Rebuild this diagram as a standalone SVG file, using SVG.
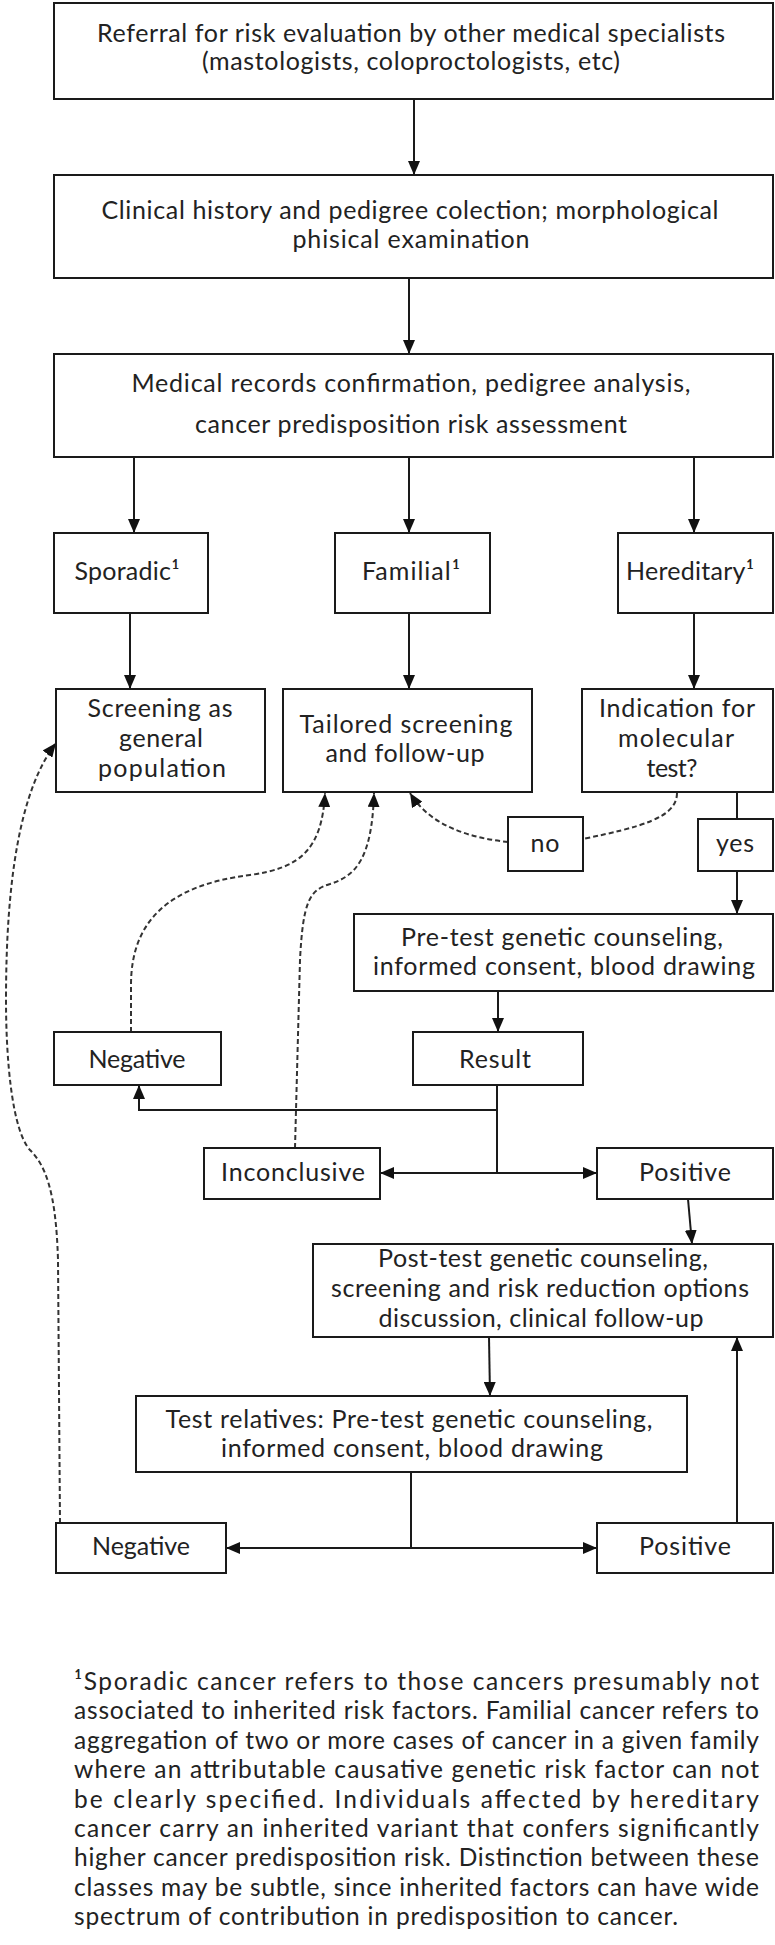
<svg xmlns="http://www.w3.org/2000/svg" width="775" height="1945" viewBox="0 0 775 1945">
<style>
.box{fill:#fff;stroke:#1a1a1a;stroke-width:2}
.t{font-family:Lato,"Liberation Sans",sans-serif;font-size:25px;fill:#222;text-anchor:middle}
.fn{font-family:Lato,"Liberation Sans",sans-serif;font-size:24.5px;fill:#222}
.c{fill:none;stroke:#1a1a1a;stroke-width:2}
.d{fill:none;stroke:#333;stroke-width:2;stroke-dasharray:5,3}
</style>
<defs>
<marker id="ah" viewBox="0 0 14 12" refX="14" refY="6" markerWidth="14" markerHeight="12" markerUnits="userSpaceOnUse" orient="auto">
<path d="M0,0 L14,6 L0,12 z" fill="#111" stroke="none"/>
</marker>
</defs>
<rect width="775" height="1945" fill="#fff"/>

<g id="connectors">
<path class="c" d="M414,99 L414,175" marker-end="url(#ah)"/>
<path class="c" d="M409,278 L409,354" marker-end="url(#ah)"/>
<path class="c" d="M134,457 L134,533" marker-end="url(#ah)"/>
<path class="c" d="M409,457 L409,533" marker-end="url(#ah)"/>
<path class="c" d="M694,457 L694,533" marker-end="url(#ah)"/>
<path class="c" d="M130,613 L130,689" marker-end="url(#ah)"/>
<path class="c" d="M409,613 L409,689" marker-end="url(#ah)"/>
<path class="c" d="M694,613 L694,689" marker-end="url(#ah)"/>
<path class="c" d="M737,792 L737,819"/>
<path class="c" d="M737,871 L737,914" marker-end="url(#ah)"/>
<path class="c" d="M498,991 L498,1032" marker-end="url(#ah)"/>
<path class="c" d="M497,1085 L497,1173"/>
<path class="c" d="M497,1110 L139,1110 L139,1085" marker-end="url(#ah)"/>
<path class="c" d="M497,1173 L380,1173" marker-end="url(#ah)"/>
<path class="c" d="M497,1173 L597,1173" marker-end="url(#ah)"/>
<path class="c" d="M688,1199 L692,1244" marker-end="url(#ah)"/>
<path class="c" d="M489,1337 L490,1396" marker-end="url(#ah)"/>
<path class="c" d="M411,1472 L411,1548"/>
<path class="c" d="M411,1548 L226,1548" marker-end="url(#ah)"/>
<path class="c" d="M411,1548 L597,1548" marker-end="url(#ah)"/>
<path class="c" d="M737,1523 L737,1337" marker-end="url(#ah)"/>
<path class="d" d="M677,793 C677,818 640,827 583,839"/>
<path class="d" d="M508,842 C470,838 430,826 410,793" marker-end="url(#ah)"/>
<path class="d" d="M131,1032 L131,985 C131,920 170,885 250,875 C300,868 322,850 325,793" marker-end="url(#ah)"/>
<path class="d" d="M295,1148 L300,960 C303,900 310,890 330,884 C355,876 372,860 374,793" marker-end="url(#ah)"/>
<path class="d" d="M60,1523 L58,1260 C56,1190 45,1165 30,1150 C12,1130 6,1060 6,1000 C6,880 20,790 56,743" marker-end="url(#ah)"/>
</g>

<g id="n-referral">
<rect class="box" x="54" y="3" width="719" height="96"/>
<text class="t" x="411" y="42" textLength="628">Referral for risk evaluation by other medical specialists</text>
<text class="t" x="411" y="70" textLength="418">(mastologists, coloproctologists, etc)</text>
</g>
<g id="n-history">
<rect class="box" x="54" y="175" width="719" height="103"/>
<text class="t" x="410" y="219" textLength="617">Clinical history and pedigree colection; morphological</text>
<text class="t" x="411" y="248" textLength="237">phisical examination</text>
</g>
<g id="n-records">
<rect class="box" x="54" y="354" width="719" height="103"/>
<text class="t" x="411" y="392" textLength="559">Medical records confirmation, pedigree analysis,</text>
<text class="t" x="411" y="433" textLength="432">cancer predisposition risk assessment</text>
</g>
<g id="n-sporadic">
<rect class="box" x="54" y="533" width="154" height="80"/>
<text class="t" x="127" y="580" textLength="105">Sporadic¹</text>
</g>
<g id="n-familial">
<rect class="box" x="335" y="533" width="155" height="80"/>
<text class="t" x="411" y="580" textLength="98">Familial¹</text>
</g>
<g id="n-hereditary">
<rect class="box" x="618" y="533" width="155" height="80"/>
<text class="t" x="690" y="580" textLength="128">Hereditary¹</text>
</g>
<g id="n-screening">
<rect class="box" x="56" y="689" width="209" height="103"/>
<text class="t" x="160" y="717" textLength="145">Screening as</text>
<text class="t" x="161" y="747" textLength="84">general</text>
<text class="t" x="162" y="777" textLength="128">population</text>
</g>
<g id="n-tailored">
<rect class="box" x="283" y="689" width="249" height="103"/>
<text class="t" x="406" y="733" textLength="213">Tailored screening</text>
<text class="t" x="405" y="762" textLength="159">and follow-up</text>
</g>
<g id="n-indication">
<rect class="box" x="582" y="689" width="191" height="103"/>
<text class="t" x="677" y="717" textLength="156">Indication for</text>
<text class="t" x="676" y="747" textLength="116">molecular</text>
<text class="t" x="672" y="777" textLength="51">test?</text>
</g>
<g id="n-no">
<rect class="box" x="508" y="817" width="75" height="54"/>
<text class="t" x="545" y="852" textLength="29">no</text>
</g>
<g id="n-yes">
<rect class="box" x="698" y="819" width="75" height="52"/>
<text class="t" x="735" y="852" textLength="38">yes</text>
</g>
<g id="n-pretest">
<rect class="box" x="354" y="914" width="419" height="77"/>
<text class="t" x="562" y="946" textLength="322">Pre-test genetic counseling,</text>
<text class="t" x="564" y="975" textLength="382">informed consent, blood drawing</text>
</g>
<g id="n-negative1">
<rect class="box" x="54" y="1032" width="167" height="53"/>
<text class="t" x="137" y="1068" textLength="97">Negative</text>
</g>
<g id="n-result">
<rect class="box" x="413" y="1032" width="170" height="53"/>
<text class="t" x="495" y="1068" textLength="72">Result</text>
</g>
<g id="n-inconclusive">
<rect class="box" x="204" y="1148" width="176" height="51"/>
<text class="t" x="293" y="1181" textLength="144">Inconclusive</text>
</g>
<g id="n-positive1">
<rect class="box" x="597" y="1148" width="176" height="51"/>
<text class="t" x="685" y="1181" textLength="92">Positive</text>
</g>
<g id="n-posttest">
<rect class="box" x="313" y="1244" width="460" height="93"/>
<text class="t" x="543" y="1267" textLength="330">Post-test genetic counseling,</text>
<text class="t" x="540" y="1297" textLength="418">screening and risk reduction options</text>
<text class="t" x="541" y="1327" textLength="325">discussion, clinical follow-up</text>
</g>
<g id="n-relatives">
<rect class="box" x="136" y="1396" width="551" height="76"/>
<text class="t" x="409" y="1428" textLength="487">Test relatives: Pre-test genetic counseling,</text>
<text class="t" x="412" y="1457" textLength="382">informed consent, blood drawing</text>
</g>
<g id="n-negative2">
<rect class="box" x="56" y="1523" width="170" height="50"/>
<text class="t" x="141" y="1555" textLength="98">Negative</text>
</g>
<g id="n-positive2">
<rect class="box" x="597" y="1523" width="176" height="50"/>
<text class="t" x="685" y="1555" textLength="92">Positive</text>
</g>

<g id="footnote">
<text class="fn" x="74" y="1690" textLength="685">¹Sporadic cancer refers to those cancers presumably not</text>
<text class="fn" x="74" y="1719" textLength="685">associated to inherited risk factors. Familial cancer refers to</text>
<text class="fn" x="74" y="1749" textLength="685">aggregation of two or more cases of cancer in a given family</text>
<text class="fn" x="74" y="1778" textLength="685">where an attributable causative genetic risk factor can not</text>
<text class="fn" x="74" y="1808" textLength="685">be clearly specified. Individuals affected by hereditary</text>
<text class="fn" x="74" y="1837" textLength="685">cancer carry an inherited variant that confers significantly</text>
<text class="fn" x="74" y="1866" textLength="685">higher cancer predisposition risk. Distinction between these</text>
<text class="fn" x="74" y="1896" textLength="685">classes may be subtle, since inherited factors can have wide</text>
<text class="fn" x="74" y="1925" textLength="604">spectrum of contribution in predisposition to cancer.</text>
</g>
</svg>
